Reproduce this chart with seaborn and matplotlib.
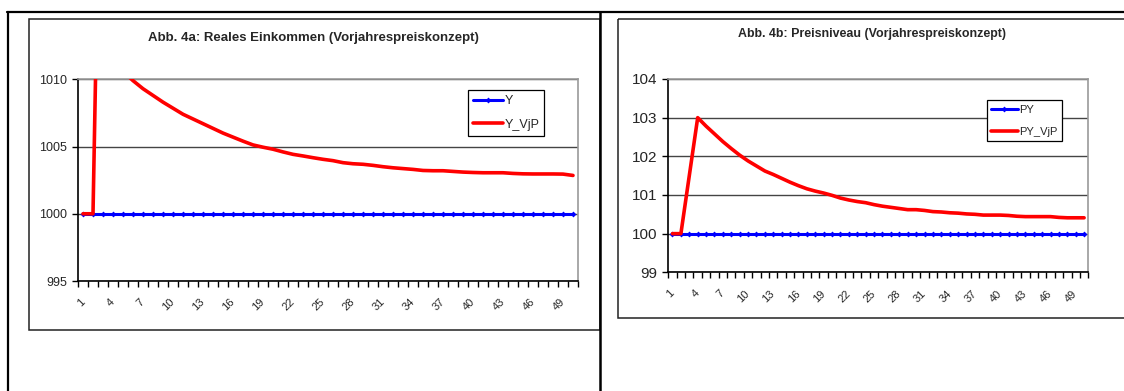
import pandas as pd
import seaborn as sns
import matplotlib.pyplot as plt
import matplotlib.transforms as mtrans
from matplotlib.lines import Line2D
from matplotlib.patches import Rectangle

# Perioden 1..50
perioden = list(range(1, 51))
x_labels = [str(p) for p in range(1, 50, 3)]

# Abb. 4a: Reales Einkommen
y_basis = [1000, 1000, 1000, 1000, 1000, 1000, 1000, 1000, 1000, 1000,
           1000, 1000, 1000, 1000, 1000, 1000, 1000, 1000, 1000, 1000,
           1000, 1000, 1000, 1000, 1000, 1000, 1000, 1000, 1000, 1000,
           1000, 1000, 1000, 1000, 1000, 1000, 1000, 1000, 1000, 1000,
           1000, 1000, 1000, 1000, 1000, 1000, 1000, 1000, 1000, 1000]
y_vjp = [1000, 1000, 1040, 1020, 1010.6, 1009.9, 1009.3, 1008.8, 1008.3, 1007.85,
         1007.4, 1007.05, 1006.7, 1006.35, 1006.0, 1005.7, 1005.4, 1005.12, 1004.95, 1004.8,
         1004.6, 1004.42, 1004.3, 1004.17, 1004.05, 1003.95, 1003.8, 1003.72, 1003.68, 1003.6,
         1003.5, 1003.42, 1003.36, 1003.3, 1003.22, 1003.2, 1003.2, 1003.15, 1003.1, 1003.07,
         1003.05, 1003.05, 1003.05, 1003.0, 1002.97, 1002.96, 1002.96, 1002.96, 1002.95, 1002.85]

# Abb. 4b: Preisniveau
py_basis = [100, 100, 100, 100, 100, 100, 100, 100, 100, 100,
            100, 100, 100, 100, 100, 100, 100, 100, 100, 100,
            100, 100, 100, 100, 100, 100, 100, 100, 100, 100,
            100, 100, 100, 100, 100, 100, 100, 100, 100, 100,
            100, 100, 100, 100, 100, 100, 100, 100, 100, 100]
py_vjp = [100, 100, 101.5, 103.0, 102.78, 102.58, 102.38, 102.2, 102.03, 101.88,
          101.75, 101.62, 101.53, 101.43, 101.33, 101.24, 101.16, 101.1, 101.05, 100.99,
          100.92, 100.87, 100.83, 100.8, 100.75, 100.71, 100.68, 100.65, 100.62, 100.62,
          100.6, 100.57, 100.56, 100.54, 100.53, 100.51, 100.5, 100.48, 100.48, 100.48,
          100.47, 100.45, 100.44, 100.44, 100.44, 100.44, 100.42, 100.41, 100.41, 100.41]

sns.set_theme(style="white")
plt.rcParams['font.family'] = ['Liberation Sans', 'DejaVu Sans']

W, H = 1124, 391
fig = plt.figure(figsize=(W / 100, H / 100), dpi=100)

# Rahmen (Tabelle + Diagrammflaechen) in Pixelkoordinaten
deko = fig.add_axes([0, 0, 1, 1])
deko.set_xlim(0, W)
deko.set_ylim(H, 0)
deko.axis('off')
deko.add_line(Line2D([7, W], [12, 12], color='black', lw=1.6))
deko.add_line(Line2D([8, 8], [12, H], color='black', lw=1.6))
deko.add_line(Line2D([600, 600], [12, H], color='black', lw=1.8))
deko.add_patch(Rectangle((28.5, 18.5), 571, 311.5, fill=False, ec='#222222', lw=1.1))
deko.add_patch(Rectangle((617.5, 18.5), 520, 299, fill=False, ec='#222222', lw=1.1))


def px_axes(x0, x1, ytop, ybot):
    return fig.add_axes([x0 / W, (H - ybot) / H, (x1 - x0) / W, (ybot - ytop) / H])


def diagramm(ax, basis, vjp, names, titel, ylim, yticks, ytick_fs, leg_pos, leg_fs,
             titel_fs, titel_y, lspace):
    df = pd.DataFrame({'t': perioden, names[0]: basis, names[1]: vjp})
    sns.lineplot(data=df, x='t', y=names[0], ax=ax, color='#0000FF', lw=2.2,
                 marker='D', markersize=3, markeredgewidth=0, label=names[0], zorder=3)
    sns.lineplot(data=df, x='t', y=names[1], ax=ax, color='#FF0000', lw=2.6,
                 label=names[1], zorder=4)
    ax.set_xlim(0.5, 50.5)
    ax.set_ylim(*ylim)
    ax.set_xlabel('')
    ax.set_ylabel('')
    ax.set_yticks(yticks)
    ax.set_yticklabels([str(v) for v in yticks], fontsize=ytick_fs)
    ax.set_xticks(list(range(1, 50, 3)))
    ax.set_xticklabels(x_labels, fontsize=8, rotation=45, ha='right',
                       rotation_mode='anchor', va='center')
    shift = mtrans.ScaledTranslation(-4 / 100, 0, fig.dpi_scale_trans)
    for lab in ax.get_xticklabels():
        lab.set_transform(lab.get_transform() + shift)
    ax.set_xticks([i + 0.5 for i in range(0, 51)], minor=True)
    ax.tick_params(axis='x', which='major', length=0, pad=14)
    ax.tick_params(axis='x', which='minor', length=4, width=1, color='black',
                   direction='out', bottom=True)
    ax.tick_params(axis='y', length=4, width=1, color='black', direction='out',
                   left=True, pad=4)
    ax.grid(axis='y', color='#444444', lw=1)
    ax.grid(axis='x', visible=False)
    for s in ['left', 'bottom']:
        ax.spines[s].set_color('black')
        ax.spines[s].set_linewidth(1.2)
    for s in ['top', 'right']:
        ax.spines[s].set_color('#9a9a9a')
        ax.spines[s].set_linewidth(1.2)
    ax.set_facecolor('white')
    leg = ax.legend(loc='upper left', bbox_to_anchor=leg_pos, borderaxespad=0,
                    fontsize=leg_fs, frameon=True, fancybox=False, framealpha=1,
                    edgecolor='black', handlelength=2.4, handletextpad=0.1,
                    labelspacing=lspace, borderpad=0.4)
    leg.get_frame().set_linewidth(0.9)
    ax.set_title(titel, fontsize=titel_fs, fontweight='bold', pad=0, y=titel_y)


ax1 = px_axes(78, 578, 79.3, 281)
diagramm(ax1, y_basis, y_vjp, ['Y', 'Y_VjP'],
         'Abb. 4a: Reales Einkommen (Vorjahrespreiskonzept)',
         (995, 1010), [995, 1000, 1005, 1010], 9, (0.78, 0.947), 9,
         9.5, 1.19, 0.95)
ax1.title.set_x(0.47)

ax2 = px_axes(668.3, 1088.3, 79, 272.3)
diagramm(ax2, py_basis, py_vjp, ['PY', 'PY_VjP'],
         'Abb. 4b: Preisniveau (Vorjahrespreiskonzept)',
         (99, 104), [99, 100, 101, 102, 103, 104], 11, (0.758, 0.891), 8,
         8.9, 1.215, 1.1)
ax2.title.set_x(0.485)

fig.savefig('out.png', dpi=100)
